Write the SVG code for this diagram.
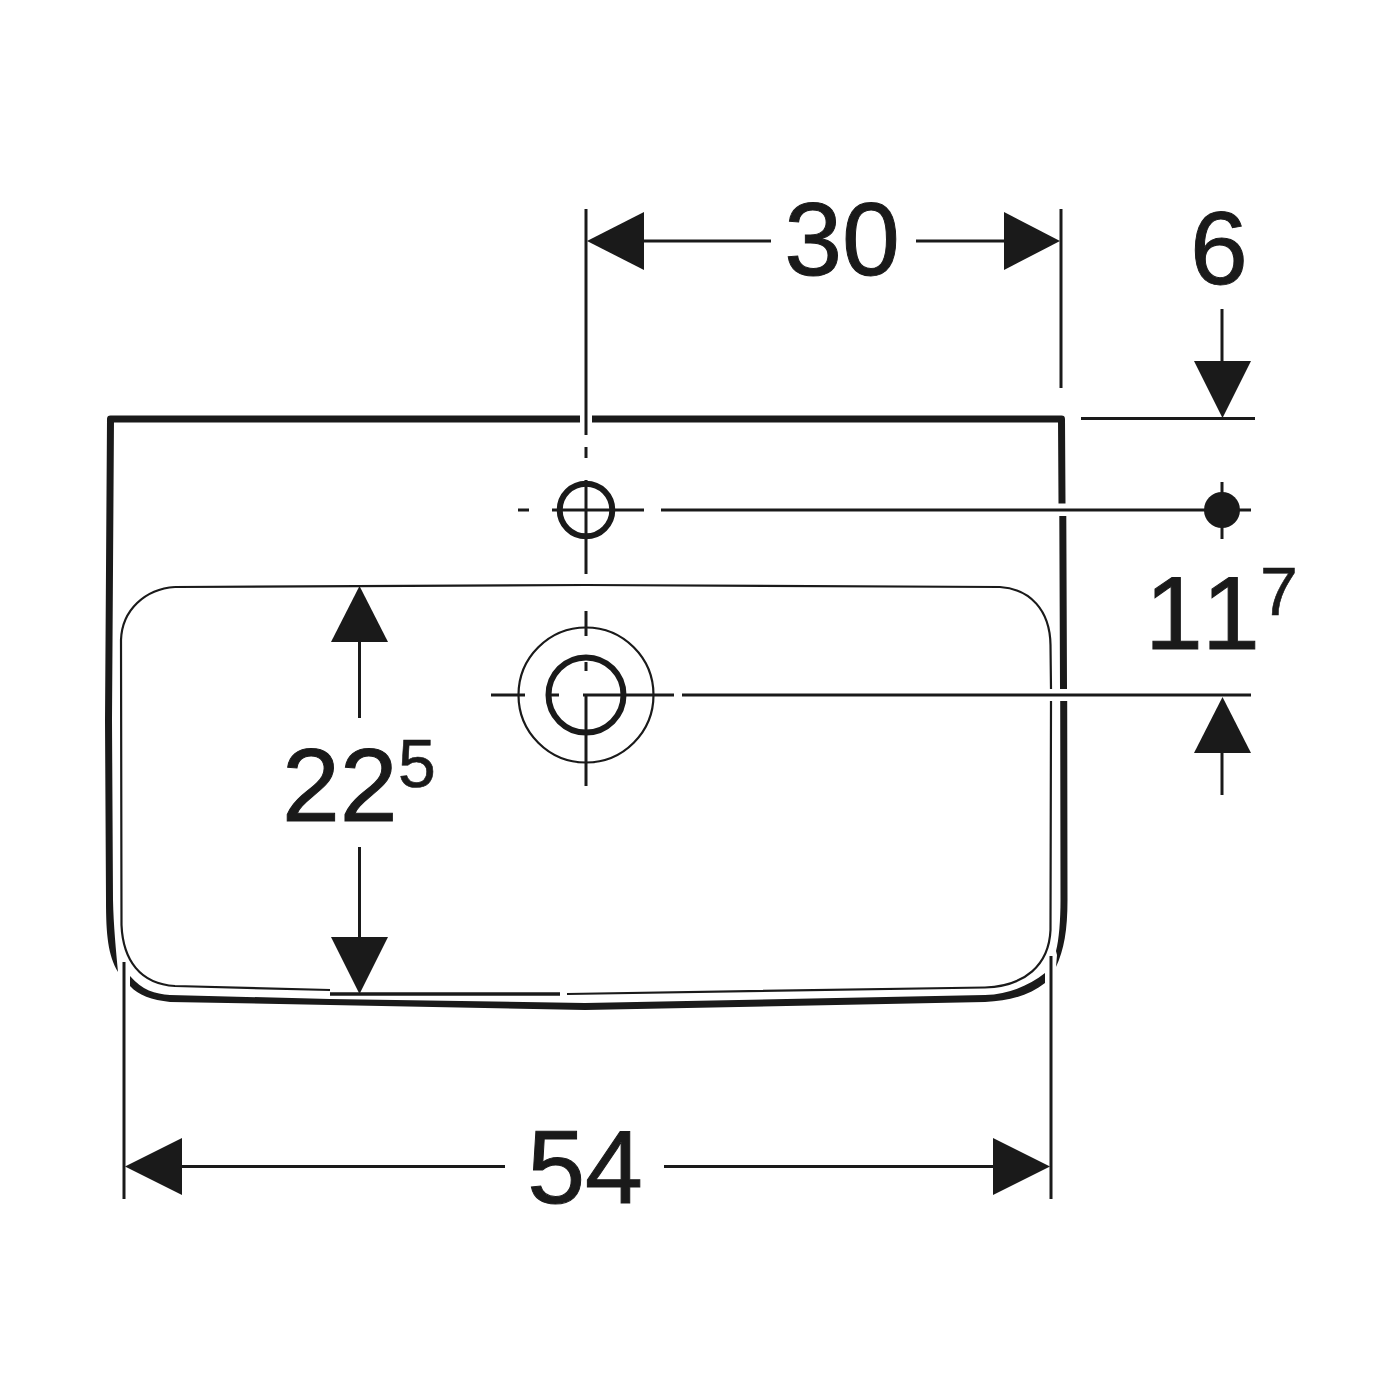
<svg xmlns="http://www.w3.org/2000/svg" width="1400" height="1400" viewBox="0 0 1400 1400">
<style>
.l{fill:none;stroke:#1a1a1a;stroke-width:3}
.o{fill:none;stroke:#1a1a1a;stroke-width:7;stroke-linejoin:round}
.b{fill:none;stroke:#1a1a1a;stroke-width:2.200}
.a{fill:#1a1a1a}
text{font-family:"Liberation Sans",Arial,sans-serif;fill:#1a1a1a;stroke:#1a1a1a;stroke-width:1}
.n{font-size:104px}
.s{font-size:68px;stroke-width:.6}
</style>
<rect width="1400" height="1400" fill="#ffffff"/>
<g id="basin-outer">
<path class="o" d="M109.500 900L108.500 720L110.500 419H580M592 419H1061.500L1062 503.500M1062.800 516L1063.500 689M1063.700 701L1064 900"/>
<path class="a" d="M106 900C106 935 108 955 118 972C116 950 113.500 925 113 900Z"/>
<path class="a" d="M1060.500 900C1060.500 920 1059 940 1056 951L1057 955L1056 967C1064 950 1067.500 930 1067.500 900Z"/>
<path class="a" d="M130 976C142 990 155 994 170 995L330 999L585 1003L985 995C1010 994 1030 985 1045 973L1045 983C1030 995 1010 1001 985 1002L585 1010L330 1005L170 1002C152 1000 138 995 130 986Z"/>
</g>
<g id="basin-inner">
<path class="b" d="M175 587L585 585L1000 587C1030 589 1050 610 1050.500 645L1051 689M1051 701L1050.500 930C1049 965 1025 986 985 987.500L567 994"/>
<path class="b" d="M330 990L175 986C140 984 123 960 121.500 925L121 640C122 610 145 589 175 587"/>
<path d="M330 994H560" fill="none" stroke="#1a1a1a" stroke-width="3.500"/>
</g>
<g id="holes">
<circle class="o" style="stroke-width:6" cx="586" cy="510" r="26.300"/>
<circle class="b" cx="586" cy="695" r="67.500"/>
<circle class="o" style="stroke-width:6" cx="586" cy="695" r="37.500"/>
</g>
<g id="connectors">
<path class="l" d="M586 209V435M586 447V458M586 480V574M586 611V636M586 662V671M586 695V786"/>
<path class="l" d="M518 510H529M552 510H644M661 510H1251"/>
<path class="l" d="M491 695H525M546 695H559M583 695H674M682 695H1251"/>
<path class="l" d="M1061 209V388M1081 418.500H1255M1222 482V539"/>
<path class="l" d="M644 241H771M916 241H1004"/>
<path class="l" d="M1222 309V361M1222 753V795"/>
<path class="l" d="M359.500 642V718M359.500 847V937"/>
<path class="l" d="M124 962V1199M1051 956V1199M182 1166.500H505M664 1166.500H993"/>
<circle class="a" cx="1222" cy="510" r="18"/>
<path class="a" d="M587 241L644 212V270Z"/>
<path class="a" d="M1060 241L1004 212V270Z"/>
<path class="a" d="M1222.500 418L1194 361H1251Z"/>
<path class="a" d="M1222.500 697L1194 753H1251Z"/>
<path class="a" d="M359.500 586L331 642H388Z"/>
<path class="a" d="M359.500 994L331 937H388Z"/>
<path class="a" d="M125 1166.500L182 1138V1195Z"/>
<path class="a" d="M1050 1166.500L993 1138V1195Z"/>
</g>
<g id="labels">
<text class="n" x="842" y="275" text-anchor="middle">30</text>
<text class="n" x="1219" y="284" text-anchor="middle">6</text>
<text class="n" x="1145 1202" y="649">11</text>
<text class="s" x="1260" y="615">7</text>
<text class="n" x="282" y="821">22</text>
<text class="s" x="398" y="787">5</text>
<text class="n" x="585" y="1203" text-anchor="middle">54</text>
</g>
</svg>
